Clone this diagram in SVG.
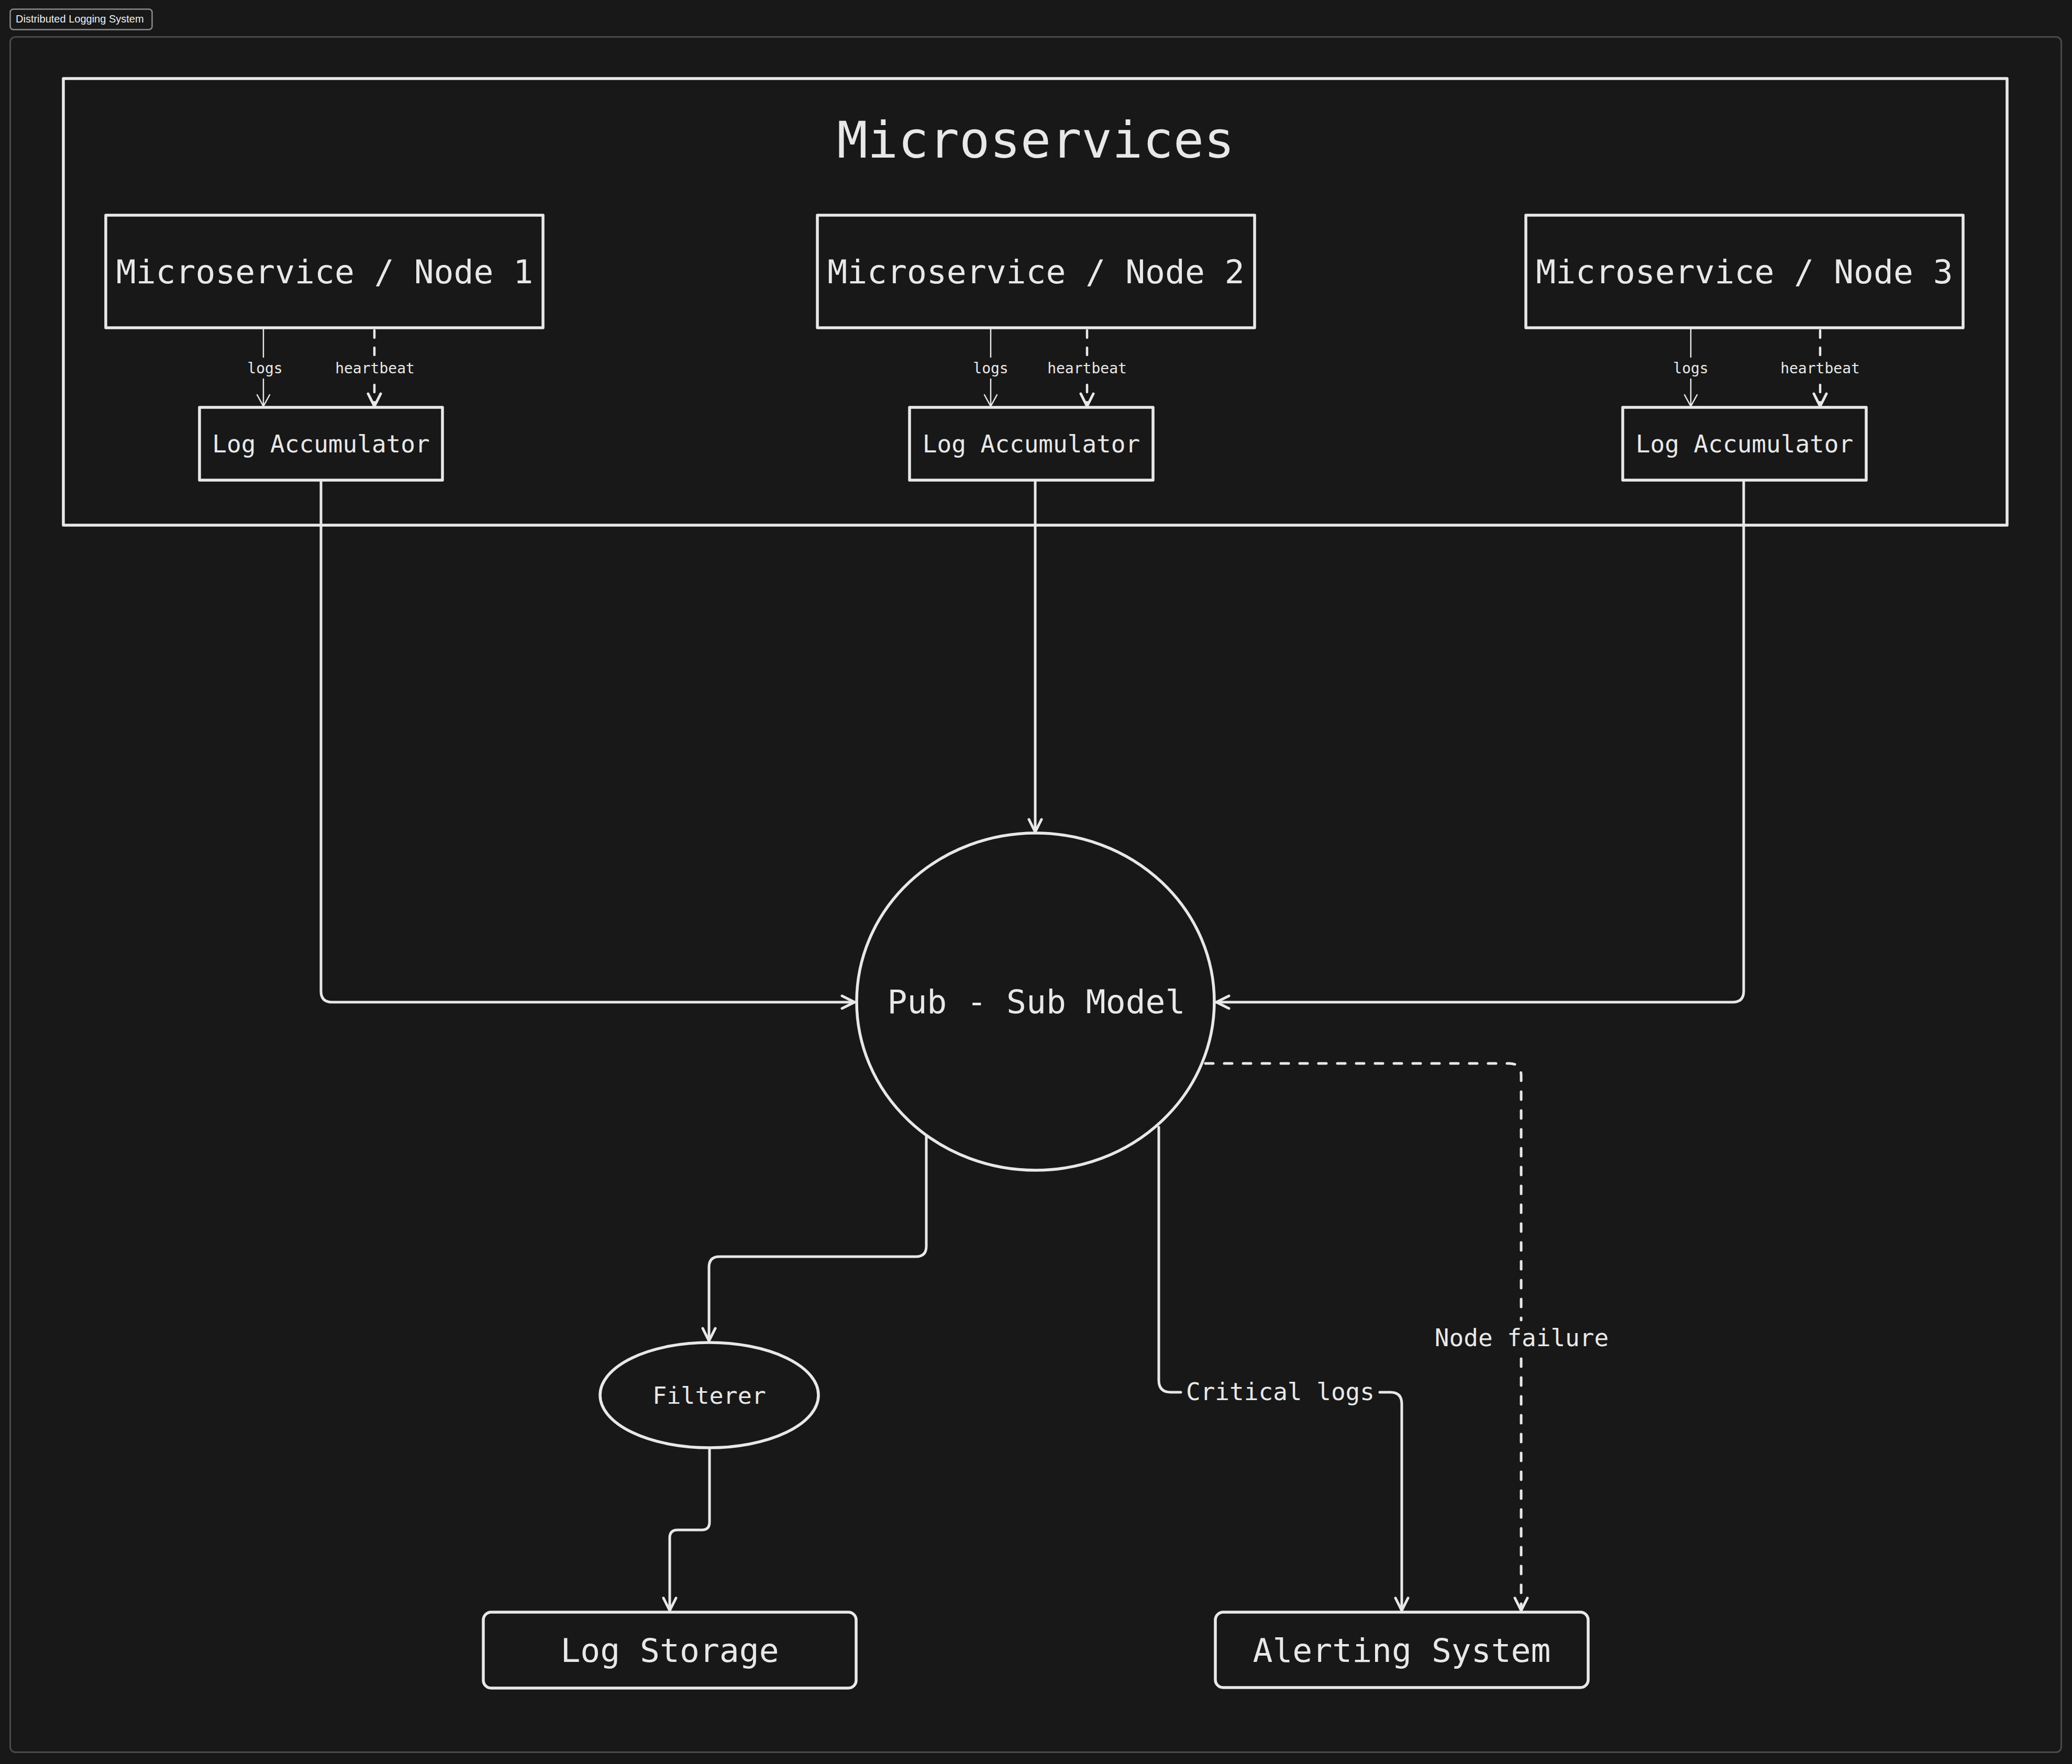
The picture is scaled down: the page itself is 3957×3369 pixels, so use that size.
<svg xmlns="http://www.w3.org/2000/svg" width="3957" height="3369" viewBox="0 0 3957 3369">
<style>
.bg{fill:#181818}
.sh{fill:none;stroke:#e8e8e8;stroke-width:5.5;stroke-linejoin:round;stroke-linecap:round}
.ln{fill:none;stroke:#e8e8e8;stroke-width:5;stroke-linejoin:round;stroke-linecap:round}
.thin{fill:none;stroke:#e8e8e8;stroke-width:2.5;stroke-linecap:round}
.hb{fill:none;stroke:#e8e8e8;stroke-width:4.5;stroke-linecap:round;stroke-dasharray:14 19}
.dash{fill:none;stroke:#e8e8e8;stroke-width:5;stroke-linecap:round;stroke-linejoin:round;stroke-dasharray:15 21}
.t{font-family:"DejaVu Sans Mono","Liberation Mono",monospace;fill:#e8e8e8;text-anchor:middle}
</style>
<defs>
<marker id="ah" viewBox="0 0 30 30" refX="27" refY="15" markerWidth="30" markerHeight="30" markerUnits="userSpaceOnUse" orient="auto">
<path d="M3,3 L27,15 L3,27" fill="none" stroke="#e8e8e8" stroke-width="5" stroke-linecap="round" stroke-linejoin="round"/>
</marker>
<marker id="ahThin" viewBox="0 0 30 30" refX="27" refY="15" markerWidth="30" markerHeight="30" markerUnits="userSpaceOnUse" orient="auto">
<path d="M5,3 L27,15 L5,27" fill="none" stroke="#e8e8e8" stroke-width="2.5" stroke-linecap="round" stroke-linejoin="round"/>
</marker>
</defs>
<rect class="bg" x="0" y="0" width="3957" height="3369"/>
<g id="frame">
<rect x="19.5" y="70.5" width="3917" height="3276" rx="10" fill="#181818" stroke="#4a4a4a" stroke-width="3"/>
</g>
<g id="title-badge">
<rect x="19.5" y="17.5" width="271" height="39" rx="6" fill="#181818" stroke="#8a8a8a" stroke-width="2.5"/>
<text x="30" y="43" font-family="'Liberation Sans',Arial,sans-serif" font-size="20" fill="#f0f0f0">Distributed Logging System</text>
</g>
<g id="microservices">
<rect class="sh" x="121" y="150" width="3712" height="853"/>
<text class="t" x="1978" y="301" font-size="97">Microservices</text>
</g>
<g id="node1">
<rect class="sh" x="202" y="411" width="835" height="215"/>
<text class="t" x="620" y="541" font-size="63">Microservice / Node 1</text>
</g>
<g id="node2">
<rect class="sh" x="1561" y="411" width="835" height="215"/>
<text class="t" x="1978.5" y="541" font-size="63">Microservice / Node 2</text>
</g>
<g id="node3">
<rect class="sh" x="2914" y="411" width="835" height="215"/>
<text class="t" x="3331.5" y="541" font-size="63">Microservice / Node 3</text>
</g>
<g id="acc1">
<rect class="sh" x="381" y="778" width="464" height="139"/>
<text class="t" x="613" y="864" font-size="46">Log Accumulator</text>
</g>
<g id="acc2">
<rect class="sh" x="1737" y="778" width="465" height="139"/>
<text class="t" x="1969.5" y="864" font-size="46">Log Accumulator</text>
</g>
<g id="acc3">
<rect class="sh" x="3099" y="778" width="465" height="139"/>
<text class="t" x="3331.5" y="864" font-size="46">Log Accumulator</text>
</g>
<g id="pubsub">
<ellipse class="sh" cx="1977.5" cy="1913" rx="341.5" ry="322"/>
<text class="t" x="1979" y="1935" font-size="63">Pub - Sub Model</text>
</g>
<g id="filterer">
<ellipse class="sh" cx="1354.5" cy="2664.5" rx="208.5" ry="100.5"/>
<text class="t" x="1354.5" y="2681" font-size="45">Filterer</text>
</g>
<g id="logstorage">
<rect class="sh" x="923" y="3079" width="712" height="145" rx="15"/>
<text class="t" x="1279" y="3174" font-size="63">Log Storage</text>
</g>
<g id="alerting">
<rect class="sh" x="2321" y="3079" width="712" height="144" rx="15"/>
<text class="t" x="2677" y="3174" font-size="63">Alerting System</text>
</g>
<g id="connectors">
<path class="thin" d="M503,629 V682"/>
<path class="thin" d="M503,724 V776" marker-end="url(#ahThin)"/>
<text class="t" x="506" y="713" font-size="28">logs</text>
<path class="hb" d="M715,631 V682"/>
<path class="hb" d="M715,735 V776" marker-end="url(#ah)"/>
<text class="t" x="716" y="713" font-size="28">heartbeat</text>
<path class="thin" d="M1892,629 V682"/>
<path class="thin" d="M1892,724 V776" marker-end="url(#ahThin)"/>
<text class="t" x="1892" y="713" font-size="28">logs</text>
<path class="hb" d="M2076,631 V682"/>
<path class="hb" d="M2076,735 V776" marker-end="url(#ah)"/>
<text class="t" x="2076" y="713" font-size="28">heartbeat</text>
<path class="thin" d="M3229,629 V682"/>
<path class="thin" d="M3229,724 V776" marker-end="url(#ahThin)"/>
<text class="t" x="3229" y="713" font-size="28">logs</text>
<path class="hb" d="M3476,631 V682"/>
<path class="hb" d="M3476,735 V776" marker-end="url(#ah)"/>
<text class="t" x="3476" y="713" font-size="28">heartbeat</text>
<path class="ln" d="M613,919 V1893 Q613,1914 634,1914 H1632" marker-end="url(#ah)"/>
<path class="ln" d="M1977,919 V1589" marker-end="url(#ah)"/>
<path class="ln" d="M3330,919 V1893 Q3330,1914 3309,1914 H2323" marker-end="url(#ah)"/>
<path class="ln" d="M1769,2170 V2380 Q1769,2400 1749,2400 H1374 Q1354,2400 1354,2420 V2561" marker-end="url(#ah)"/>
<path class="ln" d="M1355,2768 V2907 Q1355,2922 1340,2922 H1294 Q1279,2922 1279,2937 V3076" marker-end="url(#ah)"/>
<path class="ln" d="M2213,2153 V2636 Q2213,2659 2236,2659 H2255"/>
<path class="ln" d="M2635,2659 H2655 Q2677,2659 2677,2681 V3076" marker-end="url(#ah)"/>
<text class="t" x="2445" y="2674" font-size="46">Critical logs</text>
<path class="dash" d="M2302,2031 H2882 Q2905,2031 2905,2054 V2521"/>
<path class="dash" d="M2905,2595 V3076" marker-end="url(#ah)"/>
<text class="t" x="2906" y="2571" font-size="46">Node failure</text>
</g>
</svg>
